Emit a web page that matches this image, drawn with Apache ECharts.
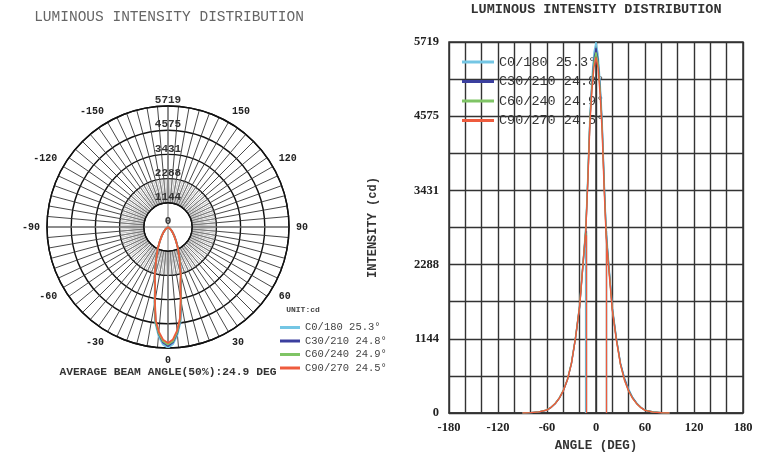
<!DOCTYPE html>
<html>
<head>
<meta charset="utf-8">
<script src="https://cdn.jsdelivr.net/npm/echarts@6/dist/echarts.min.js"></script>
<style>
html,body{margin:0;padding:0;background:#fff;}
#main{width:767px;height:457px;}
</style>
</head>
<body>
<div id="main"></div>
<script>
// ---- data ----
const angles = [-90,-80,-70,-60,-55,-50,-45,-40,-35,-30,-25,-20,-15,-12.5,-10,-7.5,-5,-2.5,0,2.5,5,7.5,10,12.5,15,20,25,30,35,40,45,50,55,60,70,80,90];
const c0_180  = [0,6,18,48,90,148,232,350,520,780,1180,1670,2470,2880,3680,4590,5160,5560,5719,5540,5120,4530,3610,2830,2420,1640,1160,770,540,370,240,150,88,45,16,5,0];
const c30_210 = [0,5,16,45,86,142,225,342,510,765,1160,1640,2430,2810,3600,4500,5070,5460,5620,5450,5030,4450,3540,2770,2370,1610,1140,760,525,355,232,146,85,43,15,5,0];
const c60_240 = [0,6,17,47,88,146,230,348,515,775,1170,1660,2450,2840,3620,4510,5040,5410,5560,5400,4990,4410,3510,2750,2350,1600,1130,750,505,340,225,142,83,42,15,5,0];
const c90_270 = [0,6,17,46,87,145,228,345,512,770,1165,1650,2440,2800,3560,4440,4970,5330,5480,5320,4920,4340,3440,2700,2310,1580,1120,745,500,335,222,140,82,41,14,4,0];
const planes = ['C0/180','C30/210','C60/240','C90/270'];
const beamAngles = [25.3, 24.8, 24.9, 24.5];
const intensityMax = 5719;
const intensityTicks = [0,1144,2288,3431,4575,5719];
const angleTicks = [-180,-120,-60,0,60,120,180];
const colors = ['#74c6e4','#3b3f9e','#7fc465','#ee5b3d'];

const seriesData = [c0_180, c30_210, c60_240, c90_270];
const names = planes.map((p,i)=> p + ' ' + beamAngles[i] + '\u00b0');
const avgBeam = (beamAngles.reduce((a,b)=>a+b,0)/beamAngles.length).toFixed(1);

// ---- layout ----
const PC = [168, 227];
const PR = 121;
const step = intensityMax/5;
const rInner = PR*step/intensityMax;
const mono = '"Liberation Mono", "DejaVu Sans Mono", monospace';
const serif = '"Liberation Serif", "DejaVu Serif", serif';

const chart = echarts.init(document.getElementById('main'), null, {renderer:'canvas'});

const series = [];
seriesData.forEach((vals,i)=>{
  const peak = Math.max.apply(null, vals);
  series.push({
    name: names[i], type:'line', xAxisIndex:0, yAxisIndex:0,
    data: angles.map((a,k)=>[a, vals[k]]),
    showSymbol:false, symbol:'none', z:5,
    lineStyle:{color:colors[i], width:1.4},
    itemStyle:{color:colors[i]},
    markLine:{
      silent:true, symbol:'none', label:{show:false},
      lineStyle:{color:colors[i], width:1.2, type:'solid'},
      data:[
        [{coord:[-beamAngles[i]/2, 0]},{coord:[-beamAngles[i]/2, peak/2]}],
        [{coord:[beamAngles[i]/2, 0]},{coord:[beamAngles[i]/2, peak/2]}]
      ]
    }
  });
  series.push({
    name: names[i], type:'line', coordinateSystem:'polar', polarIndex:2,
    data: angles.map((a,k)=>[vals[k], a]),
    showSymbol:false, symbol:'none', z:5,
    lineStyle:{color:colors[i], width:1.8},
    itemStyle:{color:colors[i]}
  });
});

const option = {
  animation:false,
  backgroundColor:'#fff',
  polar:[
    {center:PC, radius:[rInner, PR]},
    {center:PC, radius:[rInner, 2*rInner]},
    {center:PC, radius:PR}
  ],
  angleAxis:[
    {polarIndex:0, type:'value', min:-180, max:180, interval:5, startAngle:90, clockwise:false,
     axisLine:{show:true, lineStyle:{color:'#111', width:1.4}},
     axisTick:{show:false},
     axisLabel:{show:true, margin:7, color:'#222', fontFamily:mono, fontWeight:'bold', fontSize:10,
       formatter:v=> (v%30===0 && Math.abs(v)!==180) ? String(v) : ''},
     splitLine:{show:true, lineStyle:{color:'#333', width:0.9}}},
    {polarIndex:1, type:'value', min:-180, max:180, interval:2.5, startAngle:90, clockwise:false,
     axisLine:{show:false}, axisTick:{show:false}, axisLabel:{show:false},
     splitLine:{show:true, lineStyle:{color:'#999', width:0.6}}},
    {polarIndex:2, type:'value', min:-180, max:180, interval:90, startAngle:90, clockwise:false,
     axisLine:{show:false}, axisTick:{show:false}, axisLabel:{show:false},
     splitLine:{show:true, lineStyle:{color:'#777', width:1}}}
  ],
  radiusAxis:[
    {polarIndex:0, type:'value', min:step, max:intensityMax, interval:step,
     axisLine:{show:false}, axisTick:{show:false}, axisLabel:{show:false},
     splitLine:{show:true, lineStyle:{color:'#111', width:1.4}}},
    {polarIndex:1, type:'value', min:0, max:1, interval:1,
     axisLine:{show:false}, axisTick:{show:false}, axisLabel:{show:false}, splitLine:{show:false}},
    {polarIndex:2, type:'value', min:0, max:intensityMax, interval:step, z:4,
     axisLine:{show:false}, axisTick:{show:false}, splitLine:{show:false},
     axisLabel:{show:true, margin:0, align:'center', verticalAlign:'bottom', color:'#333',
       fontFamily:mono, fontSize:11, fontWeight:'bold', formatter:v=> String(Math.round(v))}}
  ],
  grid:{left:449, right:24, top:42, bottom:40, show:true, borderColor:'#333', borderWidth:1.5},
  xAxis:{type:'value', min:angleTicks[0], max:angleTicks[angleTicks.length-1], interval:60,
    name:'ANGLE (DEG)', nameLocation:'middle', nameGap:26,
    nameTextStyle:{fontFamily:mono, fontSize:12.5, fontWeight:'bold', color:'#333'},
    axisLine:{show:true, lineStyle:{color:'#333', width:1.5}},
    axisTick:{show:false},
    axisLabel:{margin:8, color:'#222', fontFamily:serif, fontWeight:'bold', fontSize:12.5},
    splitLine:{show:true, lineStyle:{color:'#333', width:1.4}},
    minorTick:{show:false, splitNumber:3},
    minorSplitLine:{show:true, lineStyle:{color:'#333', width:1.4}}},
  yAxis:{type:'value', min:0, max:intensityMax, interval:step,
    name:'INTENSITY (cd)', nameLocation:'middle', nameGap:70, nameRotate:90,
    nameTextStyle:{fontFamily:mono, fontSize:12, fontWeight:'bold', color:'#333'},
    axisLine:{show:true, lineStyle:{color:'#333', width:1.5}},
    axisTick:{show:false},
    axisLabel:{margin:10, color:'#222', fontFamily:serif, fontWeight:'bold', fontSize:12.5,
      formatter:v=> String(Math.round(v))},
    splitLine:{show:true, lineStyle:{color:'#333', width:1.4}},
    minorTick:{show:false, splitNumber:2},
    minorSplitLine:{show:true, lineStyle:{color:'#333', width:1.4}}},
  legend:[
    {left:457, top:50, orient:'vertical', icon:'rect', itemWidth:32, itemHeight:3, itemGap:5.5,
     data:names, selectedMode:false,
     textStyle:{fontFamily:mono, fontSize:13.5, color:'#333'}},
    {left:275, top:317, orient:'vertical', icon:'rect', itemWidth:20, itemHeight:3, itemGap:2.5,
     data:names, selectedMode:false,
     textStyle:{fontFamily:mono, fontSize:10.5, color:'#444'}}
  ],
  graphic:[
    {type:'text', x:169, y:17, style:{text:'LUMINOUS INTENSITY DISTRIBUTION', fontFamily:mono, fontSize:14.5, fill:'#666', textAlign:'center', textVerticalAlign:'middle'}},
    {type:'text', x:596, y:10, style:{text:'LUMINOUS INTENSITY DISTRIBUTION', fontFamily:mono, fontSize:13.5, fontWeight:'bold', fill:'#333', textAlign:'center', textVerticalAlign:'middle'}},
    {type:'text', x:303, y:310, style:{text:'UNIT:cd', fontFamily:mono, fontSize:8, fontWeight:'bold', fill:'#444', textAlign:'center', textVerticalAlign:'middle'}},
    {type:'text', x:168, y:372, style:{text:'AVERAGE BEAM ANGLE(50%):' + avgBeam + ' DEG', fontFamily:mono, fontSize:11.3, fontWeight:'bold', fill:'#333', textAlign:'center', textVerticalAlign:'middle'}}
  ],
  series: series
};
chart.setOption(option);
</script>
</body>
</html>
